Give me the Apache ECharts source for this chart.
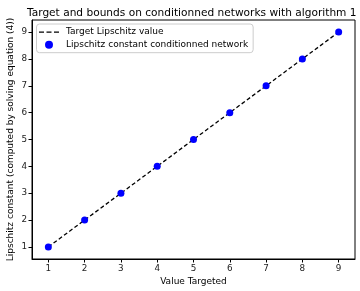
<!DOCTYPE html>
<html><head><meta charset="utf-8">
<script src="https://cdn.jsdelivr.net/npm/echarts@6/dist/echarts.min.js"></script>
<style>html,body{margin:0;padding:0;background:#fff}#c{width:360px;height:291px}</style>
</head><body><div id="c"></div>
<script>
var targets = [1, 2, 3, 4, 5, 6, 7, 8, 9];
var targetLine = [1, 2, 3, 4, 5, 6, 7, 8, 9];
var computed = [1, 2, 3, 4, 5, 6, 7, 8, 9];
var xTicks = [1, 2, 3, 4, 5, 6, 7, 8, 9];
var yTicks = [1, 2, 3, 4, 5, 6, 7, 8, 9];
var titleText = 'Target and bounds on conditionned networks with algorithm 1';
var seriesNames = ['Target Lipschitz value', 'Lipschitz constant conditionned network'];

var font = 'DejaVu Sans';
var chart = echarts.init(document.getElementById('c'), null, {renderer: 'canvas'});
function axis(ticks, name, isX) {
  return {
    type: 'value', min: 0.55, max: 9.45,
    name: name, nameLocation: 'middle', nameGap: isX ? 18 : 17, nameMoveOverlap: false,
    nameTextStyle: {fontFamily: font, fontSize: 9, color: '#000'},
    axisLine: {show: true, onZero: false, lineStyle: {color: '#000', width: 1}},
    axisTick: {show: true, customValues: ticks, length: 3.5, lineStyle: {color: '#000'}},
    axisLabel: {customValues: ticks, fontFamily: font, fontSize: 8.8, color: '#222', margin: 5},
    splitLine: {show: false}
  };
}
chart.setOption({
  animation: false,
  title: {text: titleText, left: 22, top: 3, textStyle: {fontFamily: font, fontSize: 10.6, fontWeight: 'normal', color: '#000'}},
  grid: {left: 32, right: 5, top: 20, bottom: 32, show: true, borderColor: '#000', borderWidth: 1, outerBoundsMode: 'none', containLabel: false},
  xAxis: axis(xTicks, 'Value Targeted', true),
  yAxis: axis(yTicks, 'Lipschitz constant (computed by solving equation (4))', false),
  legend: {
    left: 36.5, top: 24, orient: 'vertical', itemGap: 1.7, itemWidth: 20, itemHeight: 8,
    padding: [2.5, 5, 2.5, 2.5], borderColor: '#ccc', borderWidth: 1, borderRadius: 3,
    textStyle: {fontFamily: font, fontSize: 9, lineHeight: 11, color: '#000', padding: [0, 0, 0, 2]},
    data: [
      {name: seriesNames[0], icon: 'path://M0,0h0v8h0z M0,3.4h5v1.3h-5z M7.5,3.4h5v1.3h-5z M15,3.4h5v1.3h-5z M20,0h0v8h0z', itemStyle: {color: '#000'}},
      {name: seriesNames[1], icon: 'circle', itemStyle: {color: '#0000ff'}}
    ]
  },
  series: [
    {name: seriesNames[0], type: 'line', data: targets.map(function(t, i){return [t, targetLine[i]];}),
     showSymbol: false, lineStyle: {color: '#000', width: 1.3, type: [4, 2.5]}, itemStyle: {color: '#000'}, z: 2},
    {name: seriesNames[1], type: 'scatter', data: targets.map(function(t, i){return [t, computed[i]];}),
     symbolSize: 7, itemStyle: {color: '#0000ff', opacity: 1}, z: 3}
  ]
});
</script></body></html>
